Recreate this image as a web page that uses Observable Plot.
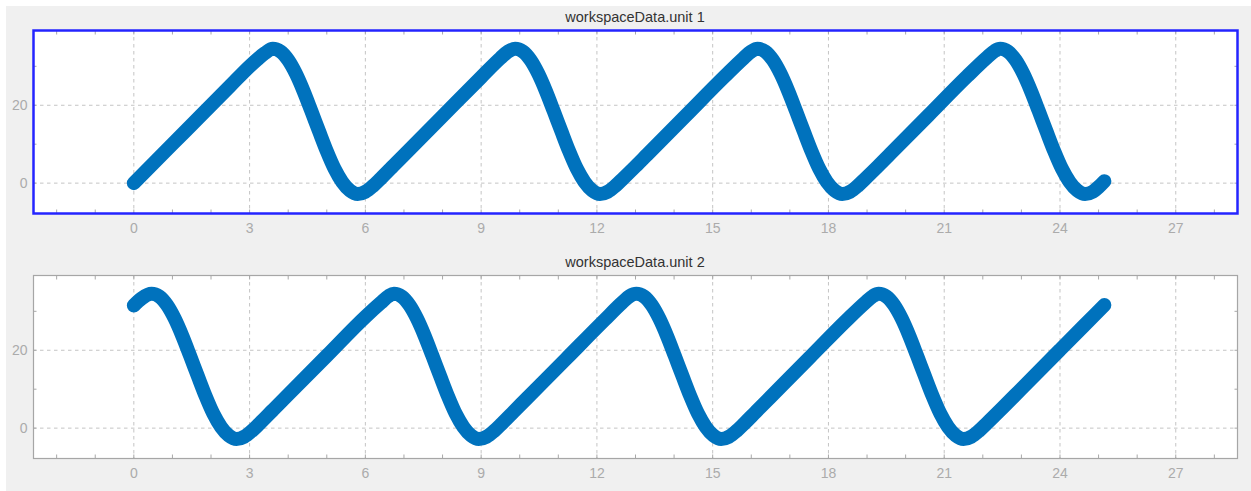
<!DOCTYPE html>
<html><head><meta charset="utf-8">
<script src="https://cdn.jsdelivr.net/npm/d3@7"></script>
<script src="https://cdn.jsdelivr.net/npm/@observablehq/plot@0.6"></script>
<style>
body{margin:0;background:#fff;width:1251px;height:491px;overflow:hidden;position:relative;font-family:"Liberation Sans",Arial,sans-serif}
#fig{position:absolute;left:6px;top:6px;width:1245px;height:485px;background:#f0f0f0}
.panel{position:absolute;left:0;width:1251px;height:245px}
.title{position:absolute;left:33px;width:1204px;text-align:center;font-size:14.5px;color:#333;line-height:16px;white-space:nowrap}
</style></head><body>
<div id="fig"></div>
<div class="panel" id="p1" style="top:0px"></div>
<div class="panel" id="p2" style="top:245px"></div>
<div class="title" id="t1" style="top:9px"></div>
<div class="title" id="t2" style="top:254px"></div>
<script>
const titles = ["workspaceData.unit 1", "workspaceData.unit 2"];
const xMajor = [0, 3, 6, 9, 12, 15, 18, 21, 24, 27];
const xMinor = [-2, -1, 0, 1, 2, 3, 4, 5, 6, 7, 8, 9, 10, 11, 12, 13, 14, 15, 16, 17, 18, 19, 20, 21, 22, 23, 24, 25, 26, 27, 28];
const yMajor = [0, 20];
const yMinor = [0, 10, 20, 30];

const unit1X = [0, 0.5, 1, 1.5, 2, 2.5, 3, 3.2, 3.4, 3.6,
  3.8, 4.0, 4.2, 4.4, 4.6, 4.8, 5.0, 5.2, 5.4, 5.6, 5.8,
  6.0, 6.2, 6.4, 6.7, 7, 8, 9, 9.5, 9.7, 9.88,
  10.08, 10.28, 10.48, 10.68, 10.88, 11.08, 11.28, 11.48, 11.68, 11.88, 12.08,
  12.28, 12.48, 12.68, 13.0, 13.3, 14.3, 15.3, 15.8, 16.0, 16.16,
  16.36, 16.56, 16.76, 16.96, 17.16, 17.36, 17.56, 17.76, 17.96, 18.16, 18.36,
  18.56, 18.76, 18.96, 19.3, 19.6, 20.6, 21.6, 22.1, 22.3, 22.45,
  22.65, 22.85, 23.05, 23.25, 23.45, 23.65, 23.85, 24.05, 24.25, 24.45, 24.65,
  24.85, 25.0, 25.15];
const unit1Y = [0, 5, 10, 15, 20, 25, 30, 31.8, 33.4, 34.5,
  33.8, 31.6, 28.1, 23.6, 18.5, 13.3, 8.2, 3.7, 0.3, -1.9, -2.8,
  -2.2, -0.7, 1.2, 4.2, 7.2, 17.2, 27.2, 32.1, 33.8, 34.5,
  33.8, 31.6, 28.1, 23.6, 18.5, 13.3, 8.2, 3.7, 0.3, -1.9, -2.8,
  -2.2, -0.7, 1.2, 4.3, 7.3, 17.3, 27.3, 32.1, 33.8, 34.5,
  33.8, 31.6, 28.1, 23.6, 18.5, 13.3, 8.2, 3.7, 0.3, -1.9, -2.8,
  -2.2, -0.7, 1.2, 4.5, 7.5, 17.5, 27.5, 32.2, 33.9, 34.5,
  33.8, 31.6, 28.1, 23.6, 18.5, 13.3, 8.2, 3.7, 0.3, -1.9, -2.8,
  -2.2, -1.0, 0.5];

const unit2X = [0, 0.2, 0.46,
  0.66, 0.86, 1.06, 1.26, 1.46, 1.66, 1.86, 2.06, 2.26, 2.46, 2.66,
  2.86, 3.06, 3.26, 3.6, 4, 5, 6, 6.4, 6.6, 6.74,
  6.94, 7.14, 7.34, 7.54, 7.74, 7.94, 8.14, 8.34, 8.54, 8.74, 8.94,
  9.14, 9.34, 9.54, 9.85, 10.2, 11.2, 12.2, 12.65, 12.85, 13.02,
  13.22, 13.42, 13.62, 13.82, 14.02, 14.22, 14.42, 14.62, 14.82, 15.02, 15.22,
  15.42, 15.62, 15.82, 16.1, 16.5, 17.5, 18.5, 18.95, 19.15, 19.3,
  19.5, 19.7, 19.9, 20.1, 20.3, 20.5, 20.7, 20.9, 21.1, 21.3, 21.5,
  21.7, 21.9, 22.1, 22.5, 23, 24, 24.6, 25.15];
const unit2Y = [31.5, 33.3, 34.5,
  33.8, 31.6, 28.1, 23.6, 18.5, 13.3, 8.2, 3.7, 0.3, -1.9, -2.8,
  -2.2, -0.7, 1.2, 4.6, 8.6, 18.6, 28.6, 32.2, 33.9, 34.5,
  33.8, 31.6, 28.1, 23.6, 18.5, 13.3, 8.2, 3.7, 0.3, -1.9, -2.8,
  -2.2, -0.7, 1.2, 4.3, 7.8, 17.8, 27.8, 32.2, 33.9, 34.5,
  33.8, 31.6, 28.1, 23.6, 18.5, 13.3, 8.2, 3.7, 0.3, -1.9, -2.8,
  -2.2, -0.7, 1.2, 4.0, 8.0, 18.0, 28.0, 32.2, 33.9, 34.5,
  33.8, 31.6, 28.1, 23.6, 18.5, 13.3, 8.2, 3.7, 0.3, -1.9, -2.8,
  -2.2, -0.7, 1.2, 5.1, 10.1, 20.1, 26.1, 31.6];

const tickColor = "#a8a8a8";
const labelColor = "#ababab";

function panel(xs, ys, frameColor, frameWidth) {
  const data = xs.map((x, i) => ({x, y: ys[i]}));
  const blank = () => "";
  return Plot.plot({
    width: 1251, height: 245,
    marginLeft: 33, marginRight: 14, marginTop: 30, marginBottom: 32,
    style: {background: "transparent", fontFamily: "Liberation Sans, Arial, sans-serif", fontSize: "14px", overflow: "visible"},
    x: {domain: [-2.6, 28.6], label: null},
    y: {domain: [-7.8, 39.2], label: null},
    marks: [
      Plot.frame({fill: "white", stroke: null}),
      Plot.gridX(xMajor, {stroke: "#c4c4c4", strokeOpacity: 1, strokeDasharray: "3.5,3.5"}),
      Plot.gridY(yMajor, {stroke: "#c4c4c4", strokeOpacity: 1, strokeDasharray: "3.5,3.5"}),
      Plot.line(data, {x: "x", y: "y", stroke: "#0072BD", strokeWidth: 14, curve: "monotone-x", strokeLinecap: "round", strokeLinejoin: "round"}),
      Plot.axisX(xMajor, {anchor: "bottom", tickSize: 0, tickPadding: 9.5, fill: labelColor, label: null}),
      Plot.axisY(yMajor, {anchor: "left", tickSize: 0, tickPadding: 6, fill: labelColor, label: null}),
      Plot.axisX(xMinor, {anchor: "bottom", tickSize: -3.5, tickFormat: blank, stroke: tickColor, label: null}),
      Plot.axisX(xMinor, {anchor: "top", tickSize: -3.5, tickFormat: blank, stroke: tickColor, label: null}),
      Plot.axisY(yMinor, {anchor: "left", tickSize: -3.5, tickFormat: blank, stroke: tickColor, label: null}),
      Plot.axisY(yMinor, {anchor: "right", tickSize: -3.5, tickFormat: blank, stroke: tickColor, label: null}),
      Plot.frame({stroke: frameColor, strokeWidth: frameWidth, strokeOpacity: 1})
    ]
  });
}

document.getElementById("p1").append(panel(unit1X, unit1Y, "#2424ff", 2.5));
document.getElementById("p2").append(panel(unit2X, unit2Y, "#a6a6a6", 1.2));
document.getElementById("t1").textContent = titles[0];
document.getElementById("t2").textContent = titles[1];
</script>
</body></html>
